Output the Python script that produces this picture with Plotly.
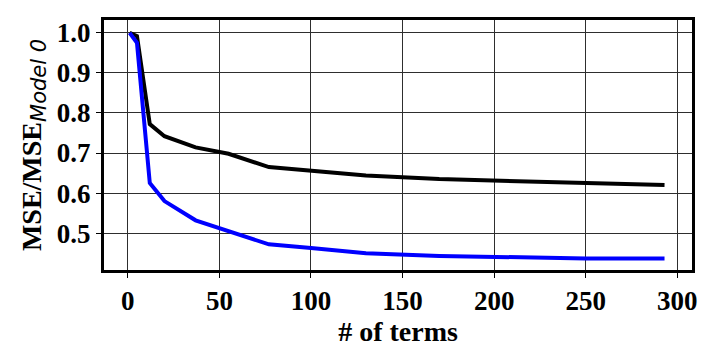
import plotly.graph_objs as go

# number of terms kept in the model
terms = [1, 5, 12, 20, 37, 55, 77, 100, 130, 170, 210, 250, 293]

# normalised MSE for the two model variants
mse_black = [1.0, 0.992, 0.772, 0.742, 0.714, 0.698, 0.665, 0.656, 0.644, 0.635, 0.630, 0.625, 0.620]
mse_blue = [1.0, 0.975, 0.625, 0.580, 0.532, 0.506, 0.472, 0.463, 0.450, 0.443, 0.439, 0.437, 0.437]

x_ticks = [0, 50, 100, 150, 200, 250, 300]
y_ticks = [0.5, 0.6, 0.7, 0.8, 0.9, 1.0]

serif = "Liberation Serif"

trace_black = go.Scatter(
    x=terms,
    y=mse_black,
    mode="lines",
    line=dict(color="black", width=4),
    showlegend=False
)

trace_blue = go.Scatter(
    x=terms,
    y=mse_blue,
    mode="lines",
    line=dict(color="#0000ff", width=4),
    showlegend=False
)

y_title = ("MSE/MSE<sub><span style=\"font-family:'DejaVu Sans';font-size:21px;"
           "font-weight:normal;font-style:italic\">Model 0</span></sub>")

# the page body keeps its default 8px margin, so the figure is 8px smaller
layout = go.Layout(
    width=710,
    height=351,
    plot_bgcolor="white",
    paper_bgcolor="white",
    margin=dict(l=96, r=26, t=9, b=89),
    font=dict(family=serif, color="black"),
    xaxis=dict(
        range=[-13, 308],
        tickvals=x_ticks,
        ticktext=[str(v) for v in x_ticks],
        ticks="outside",
        ticklen=5,
        tickwidth=1.2,
        tickcolor="black",
        tickfont=dict(family=serif, size=27, color="black", weight="bold"),
        showgrid=True,
        gridcolor="#2e2e2e",
        gridwidth=1,
        zeroline=False,
        showline=True,
        linecolor="black",
        linewidth=3,
        mirror=True,
        title=dict(text="# of terms", standoff=2,
                   font=dict(family=serif, size=28, color="black", weight="bold"))
    ),
    yaxis=dict(
        range=[0.408, 1.032],
        tickvals=y_ticks,
        ticktext=["%.1f" % v for v in y_ticks],
        ticks="outside",
        ticklen=5,
        tickwidth=1.2,
        tickcolor="black",
        tickfont=dict(family=serif, size=27, color="black", weight="bold"),
        showgrid=True,
        gridcolor="#2e2e2e",
        gridwidth=1,
        zeroline=False,
        showline=True,
        linecolor="black",
        linewidth=3,
        mirror=True,
        title=dict(text=y_title, standoff=8,
                   font=dict(family=serif, size=28, color="black", weight="bold"))
    )
)

fig = go.Figure(data=[trace_black, trace_blue], layout=layout)
fig.write_html("out.html")
